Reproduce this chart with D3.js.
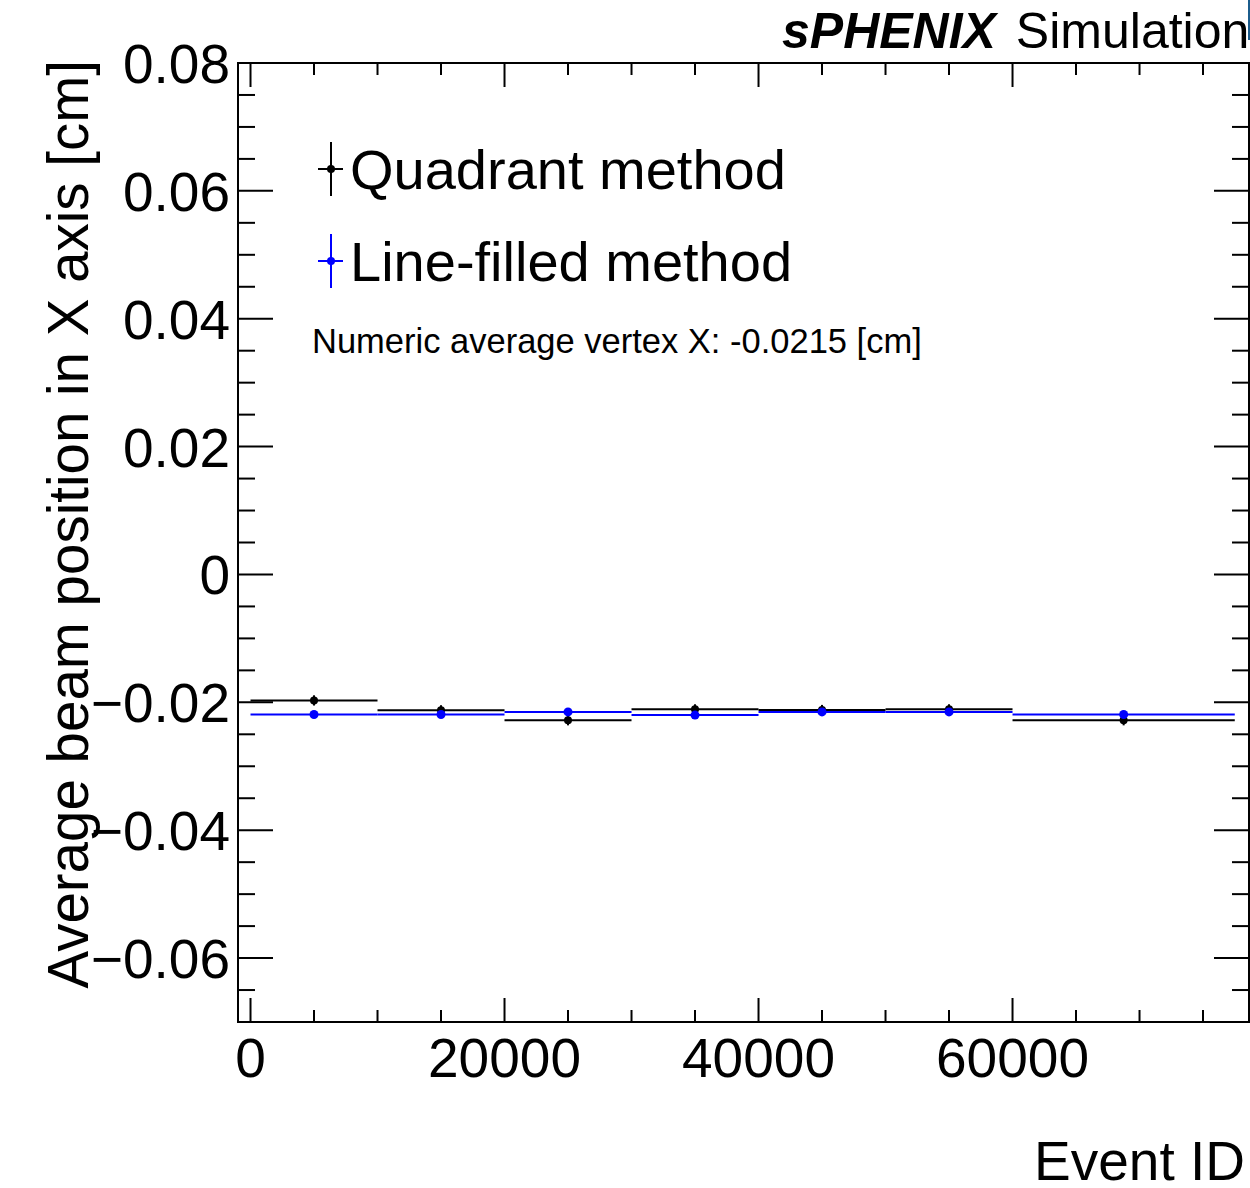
<!DOCTYPE html>
<html><head><meta charset="utf-8">
<script src="https://cdn.jsdelivr.net/npm/d3@7"></script>
<style>body{margin:0;background:#fff}svg{display:block}text{font-family:"Liberation Sans",Arial,Helvetica,sans-serif}</style>
</head><body>
<script>
// ---- data ----
const binEdges = [0, 10000, 20000, 30000, 40000, 50000, 60000, 77500];
const quadrantValues = [-0.0197, -0.02125, -0.0228, -0.0211, -0.0212, -0.0211, -0.0228];
const quadrantErrors = [0.0008, 0.0008, 0.0008, 0.0008, 0.0008, 0.0008, 0.0008];
const lineFilledValues = [-0.0219, -0.0219, -0.0215, -0.0220, -0.0215, -0.0215, -0.0219];
const lineFilledErrors = [0.0004, 0.0004, 0.0004, 0.0004, 0.0004, 0.0004, 0.0004];
const xTickLabels = [0, 20000, 40000, 60000];
const yTickLabels = [-0.06, -0.04, -0.02, 0, 0.02, 0.04, 0.06, 0.08];
const seriesNames = ["Quadrant method", "Line-filled method"];
const annotation = "Numeric average vertex X: -0.0215 [cm]";

const W = 1250, H = 1188;
const L = 238, R = 1249, T = 63, B = 1022;
const svg = d3.select("body").append("svg").attr("width", W).attr("height", H);

const x = d3.scaleLinear().domain([-985, 78620]).range([L, R]);
const y = d3.scaleLinear().domain([-0.07, 0.08]).range([B, T]);

// ticks
const g = svg.append("g").attr("stroke", "#000").attr("stroke-width", 2);
const xMinor = d3.range(0, 78001, 5000);
xMinor.forEach(v => {
  const major = v % 20000 === 0;
  const len = major ? 24 : 12;
  g.append("line").attr("x1", x(v)).attr("x2", x(v)).attr("y1", B).attr("y2", B - len);
  g.append("line").attr("x1", x(v)).attr("x2", x(v)).attr("y1", T).attr("y2", T + len);
});
const yMinor = d3.range(-0.07, 0.0801, 0.005).map(v => Math.round(v * 1000) / 1000);
yMinor.forEach(v => {
  const major = Math.abs(Math.round(v * 1000) % 20) === 0;
  const len = major ? 35 : 17;
  g.append("line").attr("x1", L).attr("x2", L + len).attr("y1", y(v)).attr("y2", y(v));
  g.append("line").attr("x1", R).attr("x2", R - len).attr("y1", y(v)).attr("y2", y(v));
});
svg.append("rect").attr("x", L).attr("y", T).attr("width", R - L).attr("height", B - T)
  .attr("fill", "none").attr("stroke", "#000").attr("stroke-width", 2);

// tick labels
svg.append("g").selectAll("text").data(xTickLabels).join("text")
  .attr("x", d => x(d)).attr("y", 1077).attr("text-anchor", "middle")
  .attr("font-size", 55).text(d => d3.format("d")(d));
svg.append("g").selectAll("text").data(yTickLabels).join("text")
  .attr("x", 230).attr("y", d => y(d) + 20).attr("text-anchor", "end")
  .attr("font-size", 55).text(d => d === 0 ? "0" : (d < 0 ? "\u2212" : "") + Math.abs(d).toFixed(2));

// axis titles
svg.append("text").attr("x", 1245).attr("y", 1180).attr("text-anchor", "end")
  .attr("font-size", 55).text("Event ID");
svg.append("text").attr("transform", "translate(88,60) rotate(-90)").attr("text-anchor", "end")
  .attr("font-size", 56.5).text("Average beam position in X axis [cm]");

// header
const hdr = svg.append("text").attr("x", 782).attr("y", 48).attr("font-size", 50);
hdr.append("tspan").attr("font-weight", "bold").attr("font-style", "italic").text("sPHENIX");
hdr.append("tspan").attr("dx", 6).text(" Simulation");
svg.append("rect").attr("x", 1248).attr("y", 0).attr("width", 2).attr("height", 40).attr("fill", "#1b5c8c");

// series
function drawSeries(values, errors, color, r) {
  const sg = svg.append("g");
  values.forEach((v, i) => {
    const x0 = binEdges[i], x1 = binEdges[i + 1], xc = (x0 + x1) / 2;
    sg.append("line").attr("x1", x(x0)).attr("x2", x(x1)).attr("y1", y(v)).attr("y2", y(v))
      .attr("stroke", color).attr("stroke-width", 2);
    sg.append("line").attr("x1", x(xc)).attr("x2", x(xc)).attr("y1", y(v - errors[i])).attr("y2", y(v + errors[i]))
      .attr("stroke", color).attr("stroke-width", 2);
    sg.append("circle").attr("cx", x(xc)).attr("cy", y(v)).attr("r", r).attr("fill", color);
  });
}
drawSeries(quadrantValues, quadrantErrors, "#000", 4);
drawSeries(lineFilledValues, lineFilledErrors, "#0000ff", 4.5);

// legend
const legend = [{name: seriesNames[0], color: "#000", cy: 169}, {name: seriesNames[1], color: "#0000ff", cy: 261}];
legend.forEach(d => {
  svg.append("line").attr("x1", 331).attr("x2", 331).attr("y1", d.cy - 27).attr("y2", d.cy + 27)
    .attr("stroke", d.color).attr("stroke-width", 2);
  svg.append("line").attr("x1", 318).attr("x2", 343).attr("y1", d.cy).attr("y2", d.cy)
    .attr("stroke", d.color).attr("stroke-width", 2);
  svg.append("circle").attr("cx", 331).attr("cy", d.cy).attr("r", 4).attr("fill", d.color);
  svg.append("text").attr("x", 350).attr("y", d.cy + 20).attr("font-size", 56).text(d.name);
});
svg.append("text").attr("x", 312).attr("y", 353).attr("font-size", 34.5).text(annotation);
</script>
</body></html>
